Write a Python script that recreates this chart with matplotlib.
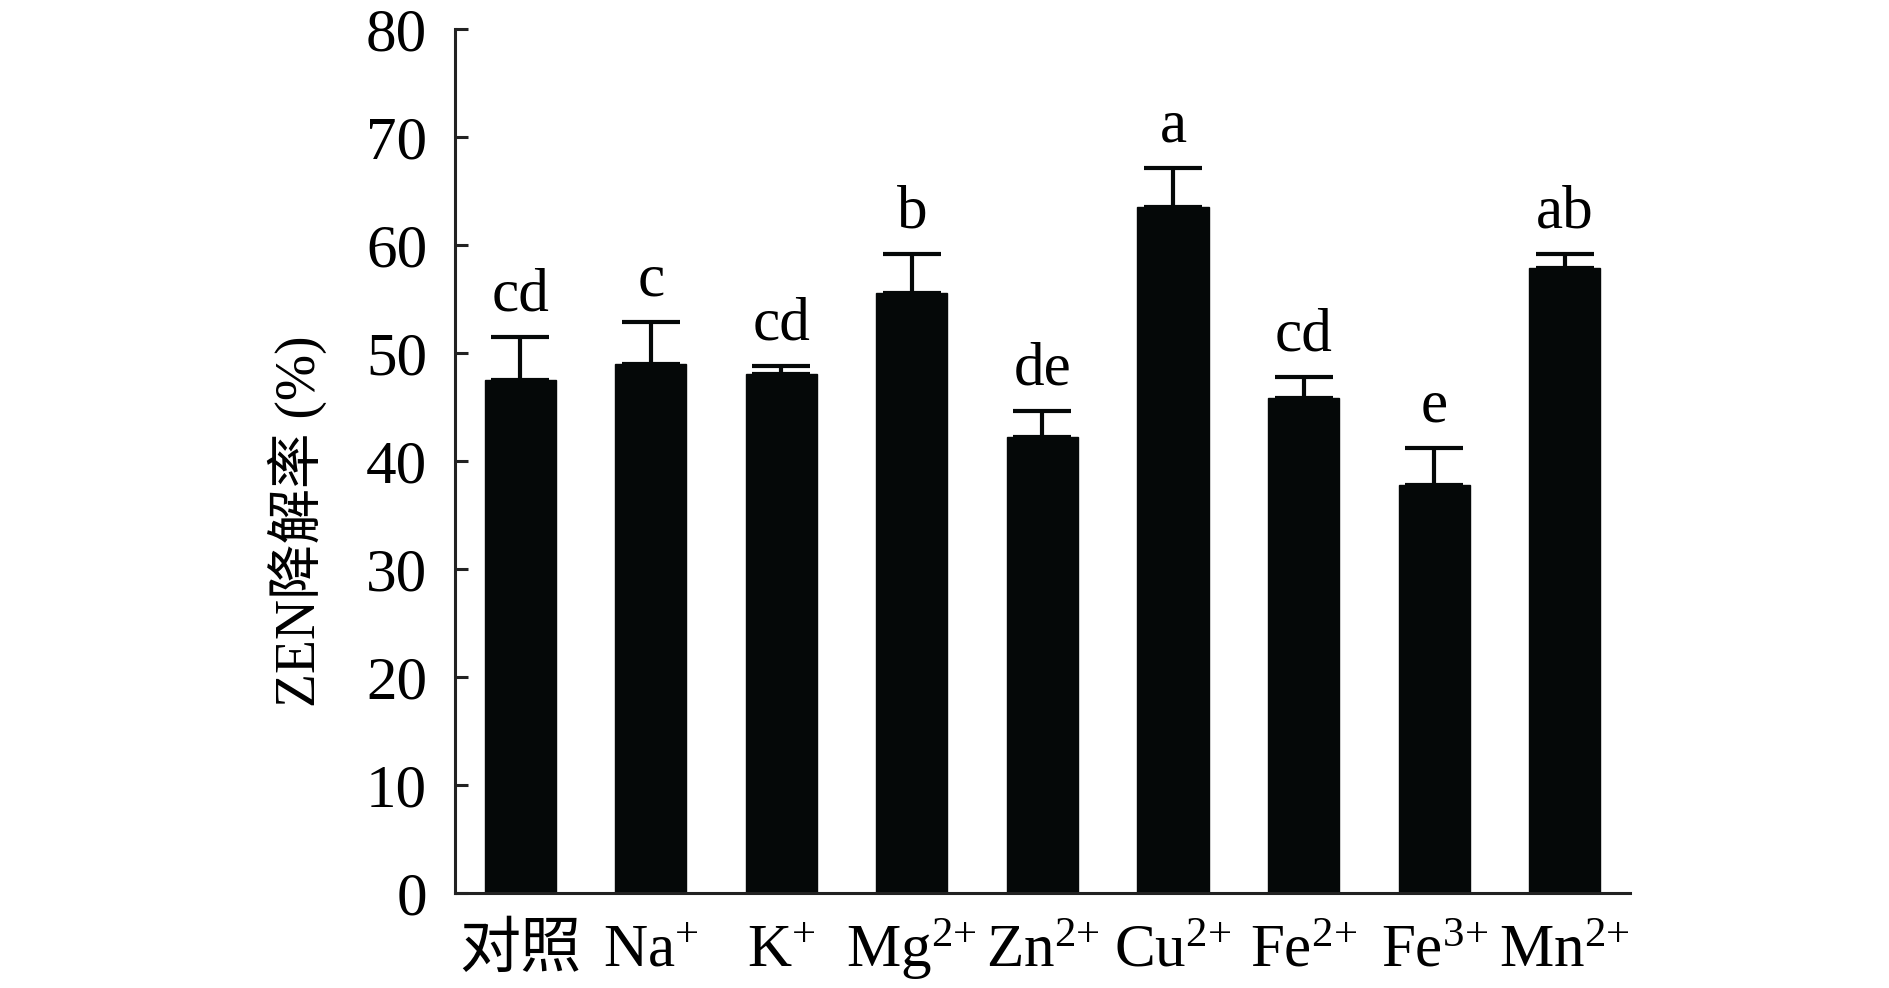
import matplotlib
matplotlib.use("Agg")
import matplotlib.pyplot as plt
import numpy as np

plt.rcParams['font.family'] = ['Liberation Serif', 'Noto Sans CJK SC', 'DejaVu Sans']
plt.rcParams['mathtext.fontset'] = 'custom'
plt.rcParams['mathtext.rm'] = 'Liberation Serif'
plt.rcParams['mathtext.it'] = 'Liberation Serif'
plt.rcParams['mathtext.bf'] = 'Liberation Serif'
plt.rcParams['mathtext.default'] = 'rm'

categories = ['对照', r'Na$^{{+}}$', r'K$^{{+}}$', r'Mg$^{2{+}}$', r'Zn$^{2{+}}$',
              r'Cu$^{2{+}}$', r'Fe$^{2{+}}$', r'Fe$^{3{+}}$', r'Mn$^{2{+}}$']
values = [47.5, 49.0, 48.1, 55.6, 42.2, 63.5, 45.8, 37.8, 57.9]
errors = [4.0, 3.9, 0.7, 3.6, 2.4, 3.6, 2.0, 3.4, 1.3]
letters = ['cd', 'c', 'cd', 'b', 'de', 'a', 'cd', 'e', 'ab']
yticks = [0, 10, 20, 30, 40, 50, 60, 70, 80]

FS = 44
fig = plt.figure(figsize=(18.9, 9.88), dpi=100)
ax = fig.add_axes([0.2407, 0.0962, 0.8624 - 0.2407, 0.9706 - 0.0962])

x = np.arange(len(categories))
bar_color = '#050808'
ax.bar(x, values, width=0.545, color=bar_color, edgecolor=bar_color,
       linewidth=1.0, zorder=2)
ax.errorbar(x, values, yerr=[np.zeros(len(errors)), errors], fmt='none',
            ecolor=bar_color, elinewidth=3.0, capsize=21, capthick=3.0, zorder=3)

for xi, v, e, lab in zip(x, values, errors, letters):
    ax.annotate(lab, xy=(xi, v + e), xytext=(0, 19), textcoords='offset points',
                ha='center', va='baseline', fontsize=FS)

ax.set_xlim(-0.5, 8.5)
ax.set_ylim(0, 80)
ax.set_yticks(yticks)
ax.set_yticklabels([str(t) for t in yticks])
ax.set_xticks(x)
ax.set_xticklabels(categories)
for lbl in ax.get_xticklabels():
    lbl.set_verticalalignment('baseline')

for s in ['top', 'right']:
    ax.spines[s].set_visible(False)
for s in ['left', 'bottom']:
    ax.spines[s].set_linewidth(2.2)
    ax.spines[s].set_color('#222222')

ax.tick_params(axis='y', direction='in', length=9, width=2.2, color='#222222',
               labelsize=FS, pad=20)
ax.tick_params(axis='x', length=0, labelsize=FS, pad=53)

ax.set_ylabel('ZEN降解率 (%)', fontsize=40)
ax.yaxis.set_label_coords(-0.109, 0.43)

fig.savefig('out.png', dpi=100)
